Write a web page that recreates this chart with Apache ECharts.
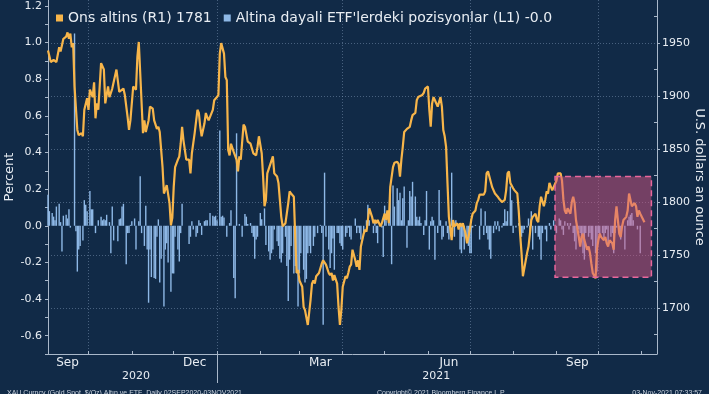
<!DOCTYPE html>
<html><head><meta charset="utf-8">
<script src="https://cdn.jsdelivr.net/npm/echarts@6/dist/echarts.min.js"></script>
<style>html,body{margin:0;padding:0;background:#112a47;}#c{width:709px;height:394px;}</style>
</head><body><div id="c"></div>
<script>
// ---- data (day offsets are days since START_DATE) ----
const START_DATE = '2020-09-02';
const goldDay = [0,2,4,6,8,9,10,11,13,14,15,16,17,18,19,21,22,24,25,26,28,29,30,32,33,34,35,36,38,40,41,43,44,46,47,49,51,52,54,55,57,58,59,61,63,64,65,66,68,69,70,72,73,75,76,78,79,80,82,83,84,85,87,88,89,90,91,93,94,95,96,97,99,100,101,102,103,105,107,108,109,110,112,113,114,115,116,118,119,121,122,123,124,125,126,127,128,129,130,131,133,134,135,136,137,138,140,141,143,145,146,147,149,150,151,153,154,155,156,157,159,161,162,164,165,166,167,168,170,172,173,174,176,177,178,179,180,182,183,184,185,186,188,189,190,191,192,194,196,197,198,199,201,202,203,204,205,207,208,209,210,211,213,214,215,216,217,218,220,221,222,223,224,226,227,228,229,230,232,233,234,235,236,238,239,241,242,243,244,245,247,248,250,251,252,253,254,255,257,258,259,260,261,263,264,265,266,268,269,270,271,272,273,274,275,276,277,279,281,282,283,284,285,286,287,289,290,291,293,294,295,296,297,299,300,301,302,303,304,306,307,308,309,310,312,313,314,315,316,318,319,320,321,322,323,325,326,327,328,329,330,331,333,334,335,336,337,338,339,340,341,343,344,345,346,347,349,350,351,352,353,355,356,357,358,359,361,362,363,364,365,367,368,369,370,371,372,374,375,376,377,378,380,381,382,383,384,386,387,388,389,390,392,393,394,395,396,398,399,400,401,402,404,405,406,407,408,409,410,411,412,414,415,416,417,418,420,421,422,423,424,427];
const goldPrice = [1943,1932,1934,1932,1946,1942,1948,1954,1956,1960,1954,1959,1946,1950,1909,1868,1863,1865,1862,1887,1898,1887,1906,1899,1913,1879,1893,1887,1931,1925,1893,1909,1899,1907,1906,1925,1904,1903,1907,1901,1880,1868,1877,1909,1906,1937,1951,1951,1865,1877,1866,1877,1890,1888,1877,1869,1871,1866,1833,1808,1807,1816,1799,1778,1785,1814,1833,1840,1843,1855,1871,1858,1840,1841,1840,1827,1846,1865,1887,1884,1871,1862,1874,1884,1880,1877,1876,1887,1896,1899,1901,1940,1950,1951,1940,1918,1915,1849,1844,1855,1847,1847,1840,1829,1843,1840,1873,1871,1857,1855,1854,1846,1844,1852,1862,1846,1824,1796,1802,1827,1835,1843,1827,1824,1818,1802,1786,1777,1780,1799,1810,1808,1805,1767,1733,1736,1726,1720,1701,1698,1697,1684,1708,1723,1726,1723,1730,1733,1742,1745,1744,1741,1733,1731,1733,1726,1731,1723,1701,1684,1698,1720,1730,1728,1733,1739,1741,1755,1745,1739,1745,1736,1758,1770,1774,1772,1783,1794,1786,1780,1783,1780,1783,1777,1780,1789,1783,1792,1780,1814,1833,1837,1838,1836,1824,1840,1852,1866,1869,1869,1871,1877,1882,1884,1896,1899,1898,1901,1903,1907,1906,1909,1887,1871,1893,1899,1896,1890,1899,1890,1868,1862,1852,1818,1786,1764,1783,1777,1780,1774,1780,1777,1780,1770,1761,1767,1774,1783,1789,1792,1799,1802,1807,1808,1807,1810,1827,1829,1829,1814,1813,1808,1808,1805,1803,1800,1799,1802,1811,1827,1829,1818,1813,1811,1811,1808,1792,1770,1752,1730,1730,1752,1758,1770,1783,1786,1789,1783,1781,1796,1805,1796,1802,1810,1808,1818,1811,1814,1814,1820,1827,1827,1820,1802,1792,1789,1794,1789,1800,1805,1799,1783,1767,1758,1767,1770,1764,1755,1758,1752,1742,1733,1728,1755,1764,1770,1767,1764,1767,1761,1758,1764,1761,1755,1783,1796,1783,1770,1767,1777,1783,1786,1792,1808,1802,1796,1799,1796,1786,1792,1789,1781];
const etfDay = [0,1,3,4,5,6,8,9,10,11,13,14,15,16,19,20,21,22,23,25,26,27,28,30,31,32,34,36,38,39,40,41,42,44,45,46,47,50,51,52,53,54,56,57,58,59,60,62,63,65,66,67,69,70,71,72,73,74,76,77,78,79,80,81,83,84,85,86,88,89,90,91,93,94,95,96,101,102,103,104,106,107,108,109,110,112,113,114,116,118,119,120,121,123,124,125,126,128,130,131,133,134,135,137,139,141,142,143,145,146,147,148,149,150,152,153,155,156,158,159,160,161,162,164,165,166,167,168,170,171,172,173,174,176,177,178,179,180,181,183,184,185,186,187,188,190,191,193,195,196,197,198,199,201,202,203,204,205,207,208,209,210,211,213,214,215,216,217,220,221,222,223,224,226,228,229,230,233,234,235,236,239,240,241,242,244,245,246,247,248,250,251,252,253,254,255,257,258,259,260,261,263,264,265,266,267,269,270,271,273,274,275,276,277,279,280,281,282,283,285,286,287,289,291,292,295,296,297,298,300,301,302,303,304,306,309,310,312,313,314,315,316,317,319,320,321,322,323,325,326,327,328,329,331,332,333,335,337,338,339,340,341,343,344,345,346,347,349,351,352,353,354,356,357,359,360,362,364,366,367,368,369,370,372,373,374,376,377,378,380,381,382,383,384,385,387,388,389,390,392,393,394,395,397,398,399,400,401,403,404,405,406,407,409,410,411,413,415,416,417,418,419,422,424];
const etfPct = [0.17,0.08,0.07,0.05,0.03,0.105,0.12,0.02,-0.14,0.055,0.06,0.04,0.09,-0.01,1.05,-0.03,-0.25,-0.13,-0.11,-0.08,0.14,0.115,0.08,0.19,0.09,0.09,-0.04,0.03,0.05,0.03,0.035,0.03,0.06,0.02,-0.15,0.105,-0.08,-0.085,0.035,0.04,0.105,0.12,-0.21,-0.04,-0.04,0.005,0.025,0.04,-0.13,0.025,0.27,-0.04,-0.11,0.11,-0.13,-0.42,-0.13,-0.28,-0.285,-0.29,-0.06,0.035,-0.31,-0.18,-0.44,-0.13,-0.095,-0.2,-0.36,-0.26,-0.26,-0.06,-0.13,-0.195,-0.04,0.12,-0.1,-0.06,0.025,-0.02,-0.06,-0.04,0.03,0.015,-0.05,0.025,0.03,0.03,0.07,0.055,0.05,0.055,0.03,0.52,0.05,0.055,0.045,-0.06,0.015,0.085,-0.285,-0.395,0.505,0.01,-0.06,0.065,0.05,0.01,0.015,-0.04,-0.06,-0.18,-0.075,-0.06,0.07,0.035,0.095,-0.105,-0.14,-0.185,-0.15,-0.13,-0.02,-0.085,-0.11,-0.18,-0.2,-0.15,-0.06,-0.22,-0.41,-0.185,-0.11,-0.26,-0.22,-0.26,-0.44,-0.26,-0.15,-0.24,-0.31,-0.29,-0.15,-0.11,-0.15,-0.11,-0.06,-0.04,0.005,-0.04,-0.54,0.29,-0.06,-0.13,-0.23,-0.15,-0.07,-0.24,-0.04,-0.04,-0.095,-0.11,-0.13,-0.06,-0.04,-0.01,-0.06,-0.075,0.04,-0.04,-0.01,-0.04,-0.075,-0.04,0.03,0.115,0.03,-0.04,0.03,-0.04,-0.095,-0.01,-0.17,0.11,0.03,0.03,0.2,-0.21,0.22,0.105,0.205,0.14,0.18,0.03,0.15,0.215,-0.12,0.03,0.19,0.16,0.24,0.16,0.05,0.03,0.05,0.015,-0.05,0.03,0.19,-0.13,0.025,0.05,0.03,-0.185,-0.04,0.195,0.03,-0.075,-0.06,0.025,-0.04,-0.075,0.29,-0.06,0.03,-0.13,-0.15,-0.06,-0.13,-0.075,-0.11,-0.15,-0.15,-0.01,0.005,-0.075,0.095,-0.05,0.08,-0.04,-0.075,-0.13,-0.18,-0.04,0.025,-0.02,0.025,-0.03,-0.01,0.015,0.09,0.025,0.08,0.215,0.14,-0.04,-0.01,0.015,-0.03,-0.06,-0.04,-0.02,-0.01,0.04,-0.04,0.08,-0.13,-0.04,-0.06,-0.075,-0.185,-0.04,-0.02,-0.085,0.015,-0.02,0.03,-0.04,0.04,0.03,-0.02,-0.05,0.025,0.015,-0.02,0.015,-0.04,-0.085,-0.13,-0.02,-0.04,-0.075,-0.15,-0.185,-0.04,-0.06,-0.04,-0.075,-0.11,-0.15,-0.25,-0.04,-0.06,-0.04,-0.075,-0.04,-0.02,-0.11,-0.06,-0.04,-0.15,-0.04,-0.01,-0.04,-0.075,-0.01,-0.13,0.03,0.05,0.06,0.07,0.03,-0.02,-0.15];

const goldName = 'Ons altins (R1) 1781';
const etfName = "Altina dayali ETF'lerdeki pozisyonlar (L1) -0.0";
const xRange = ['2020-09-02', '2021-11-12'];
const leftRange = [-0.7, 1.2327];
const rightRange = [1656.6, 1990.6];
const leftTicks = [-0.7,-0.6,-0.5,-0.4,-0.3,-0.2,-0.1,0,0.1,0.2,0.3,0.4,0.5,0.6,0.7,0.8,0.9,1.0,1.1,1.2];
const leftLabels = [-0.6,-0.4,-0.2,0,0.2,0.4,0.6,0.8,1.0,1.2];
const rightTicks = [1700,1750,1800,1850,1900,1950];
const rightMinorTicks = [1675,1725,1775,1825,1875,1925,1975];
const monthTickDates = ['2020-10-01','2020-11-01','2020-12-01','2021-01-01','2021-02-01','2021-03-01','2021-04-01','2021-05-01','2021-06-01','2021-07-01','2021-08-01','2021-09-01','2021-10-01','2021-11-01'];
const monthLabelDates = ['2020-09-16','2020-12-16','2021-03-16','2021-06-16','2021-09-16'];
const monthLabels = ['Sep','Dec','Mar','Jun','Sep'];
const yearLabelDates = ['2020-11-04','2021-06-07'];
const yearLabels = ['2020','2021'];
const yearDividerDates = ['2021-01-01'];
const quarterGridDates = ['2020-10-01','2021-01-01','2021-04-01','2021-07-01','2021-10-01'];
const boxFrom = '2021-08-31', boxTo = '2021-11-08', boxHigh = 1824, boxLow = 1729;
const footerLeft = 'XAU Curncy (Gold Spot  $/Oz) Altın ve ETF  Daily 02SEP2020-03NOV2021';
const footerMid = 'Copyright© 2021 Bloomberg Finance L.P.';
const footerRight = '03-Nov-2021 07:33:57';

// ---- build ----
const DAY = 86400000;
const t0 = Date.parse(START_DATE);
const ts = s => Date.parse(s);
const goldData = goldDay.map((d, i) => [t0 + d * DAY, goldPrice[i]]);
const etfData = etfDay.map((d, i) => [t0 + d * DAY, etfPct[i]]);
const monthLabelTs = monthLabelDates.map(ts);
const yearLabelTs = yearLabelDates.map(ts);
const nearestIdx = (arr, v) => { let b = 0; arr.forEach((a, i) => { if (Math.abs(a - v) < Math.abs(arr[b] - v)) b = i; }); return b; };

const FONT = 'DejaVu Sans';
const TXT = '#e8edf3';
const AXIS = '#a9b8ca';
const GRIDC = 'rgba(140,165,195,0.45)';
const xBase = { type: 'value', min: ts(xRange[0]), max: ts(xRange[1]), scale: true };

const chart = echarts.init(document.getElementById('c'), null, { renderer: 'canvas' });
chart.setOption({
  backgroundColor: '#112a47',
  animation: false,
  textStyle: { fontFamily: FONT },
  title: [
    { text: footerLeft, left: 2, top: 385, textStyle: { fontSize: 7, color: '#c9d2dd', fontWeight: 'normal', fontFamily: 'Liberation Sans' } },
    { text: footerMid, left: 372, top: 385, textStyle: { fontSize: 7, color: '#c9d2dd', fontWeight: 'normal', fontFamily: 'Liberation Sans' } },
    { text: footerRight, right: 2, top: 385, textStyle: { fontSize: 7, color: '#c9d2dd', fontWeight: 'normal', fontFamily: 'Liberation Sans' } }
  ],
  legend: {
    left: 51, top: 6, icon: 'rect', itemWidth: 7, itemHeight: 7, itemGap: 12,
    data: [{ name: goldName, itemStyle: { color: '#f7b54a' } }, { name: etfName, itemStyle: { color: '#8eb8e6' } }],
    textStyle: { color: TXT, fontSize: 14, fontFamily: FONT }
  },
  grid: { left: 48, right: 52, top: 0, bottom: 40, containLabel: false, outerBoundsMode: 'none' },
  xAxis: [
    Object.assign({}, xBase, {
      axisLine: { show: true, onZero: false, lineStyle: { color: AXIS, width: 1 } },
      axisTick: { show: true, inside: true, length: 3, customValues: monthTickDates.map(ts), lineStyle: { color: AXIS } },
      axisLabel: { show: true, customValues: monthLabelTs, margin: 3, color: TXT, fontSize: 12, fontFamily: FONT,
        formatter: v => monthLabels[nearestIdx(monthLabelTs, v)] },
      splitLine: { show: false }
    }),
    Object.assign({}, xBase, { position: 'bottom',
      axisLine: { show: false, onZero: false },
      axisTick: { show: true, inside: false, length: 29, customValues: yearDividerDates.map(ts), lineStyle: { color: AXIS } },
      axisLabel: { show: true, customValues: yearLabelTs, margin: 17, color: TXT, fontSize: 11, fontFamily: FONT,
        formatter: v => yearLabels[nearestIdx(yearLabelTs, v)] },
      splitLine: { show: false }
    }),
    Object.assign({}, xBase, { position: 'bottom',
      axisLine: { show: false, onZero: false },
      axisTick: { show: false, customValues: quarterGridDates.map(ts) },
      axisLabel: { show: false, customValues: quarterGridDates.map(ts) },
      splitLine: { show: true, lineStyle: { color: GRIDC, type: [1, 2], width: 1 } }
    })
  ],
  yAxis: [
    {
      type: 'value', position: 'left', min: leftRange[0], max: leftRange[1],
      name: 'Percent', nameLocation: 'middle', nameGap: 32, nameRotate: 90, nameMoveOverlap: false,
      nameTextStyle: { color: TXT, fontSize: 13, fontFamily: FONT },
      axisLine: { show: true, onZero: false, lineStyle: { color: AXIS } },
      axisTick: { show: true, inside: false, length: 3, customValues: leftTicks, lineStyle: { color: AXIS } },
      axisLabel: { show: true, customValues: leftLabels, margin: 6, color: TXT, fontSize: 11, fontFamily: FONT, formatter: v => v.toFixed(1) },
      splitLine: { show: false }
    },
    {
      type: 'value', position: 'right', min: rightRange[0], max: rightRange[1],
      name: 'U.S. dollars an ounce', nameLocation: 'middle', nameGap: 36, nameRotate: -90, nameMoveOverlap: false,
      nameTextStyle: { color: TXT, fontSize: 13, fontFamily: FONT },
      axisLine: { show: true, onZero: false, lineStyle: { color: AXIS } },
      axisTick: { show: true, inside: false, length: 3, customValues: rightTicks, lineStyle: { color: AXIS } },
      axisLabel: { show: true, customValues: rightTicks, margin: 5, color: TXT, fontSize: 11, fontFamily: FONT, formatter: v => String(v) },
      splitLine: { show: true, lineStyle: { color: GRIDC, type: [1, 2], width: 1 } }
    },
    {
      type: 'value', position: 'right', min: rightRange[0], max: rightRange[1],
      axisLine: { show: false, onZero: false },
      axisTick: { show: true, inside: true, length: 3, customValues: rightMinorTicks, lineStyle: { color: AXIS } },
      axisLabel: { show: false },
      splitLine: { show: false }
    }
  ],
  series: [
    {
      name: etfName, type: 'bar', xAxisIndex: 0, yAxisIndex: 0, data: etfData,
      barWidth: 1.4, itemStyle: { color: '#8eb8e6' }, z: 2
    },
    {
      name: goldName, type: 'line', xAxisIndex: 0, yAxisIndex: 1, data: goldData,
      showSymbol: false, symbol: 'none', lineStyle: { color: '#f7b54a', width: 2.2 }, itemStyle: { color: '#f7b54a' }, z: 3,
      markArea: {
        silent: true, z: 10,
        itemStyle: { color: 'rgba(215,85,130,0.5)', borderColor: '#e8679c', borderWidth: 1.5, borderType: [6, 4] },
        data: [[{ coord: [ts(boxFrom), boxHigh] }, { coord: [ts(boxTo), boxLow] }]]
      }
    }
  ]
});
</script>
</body></html>
